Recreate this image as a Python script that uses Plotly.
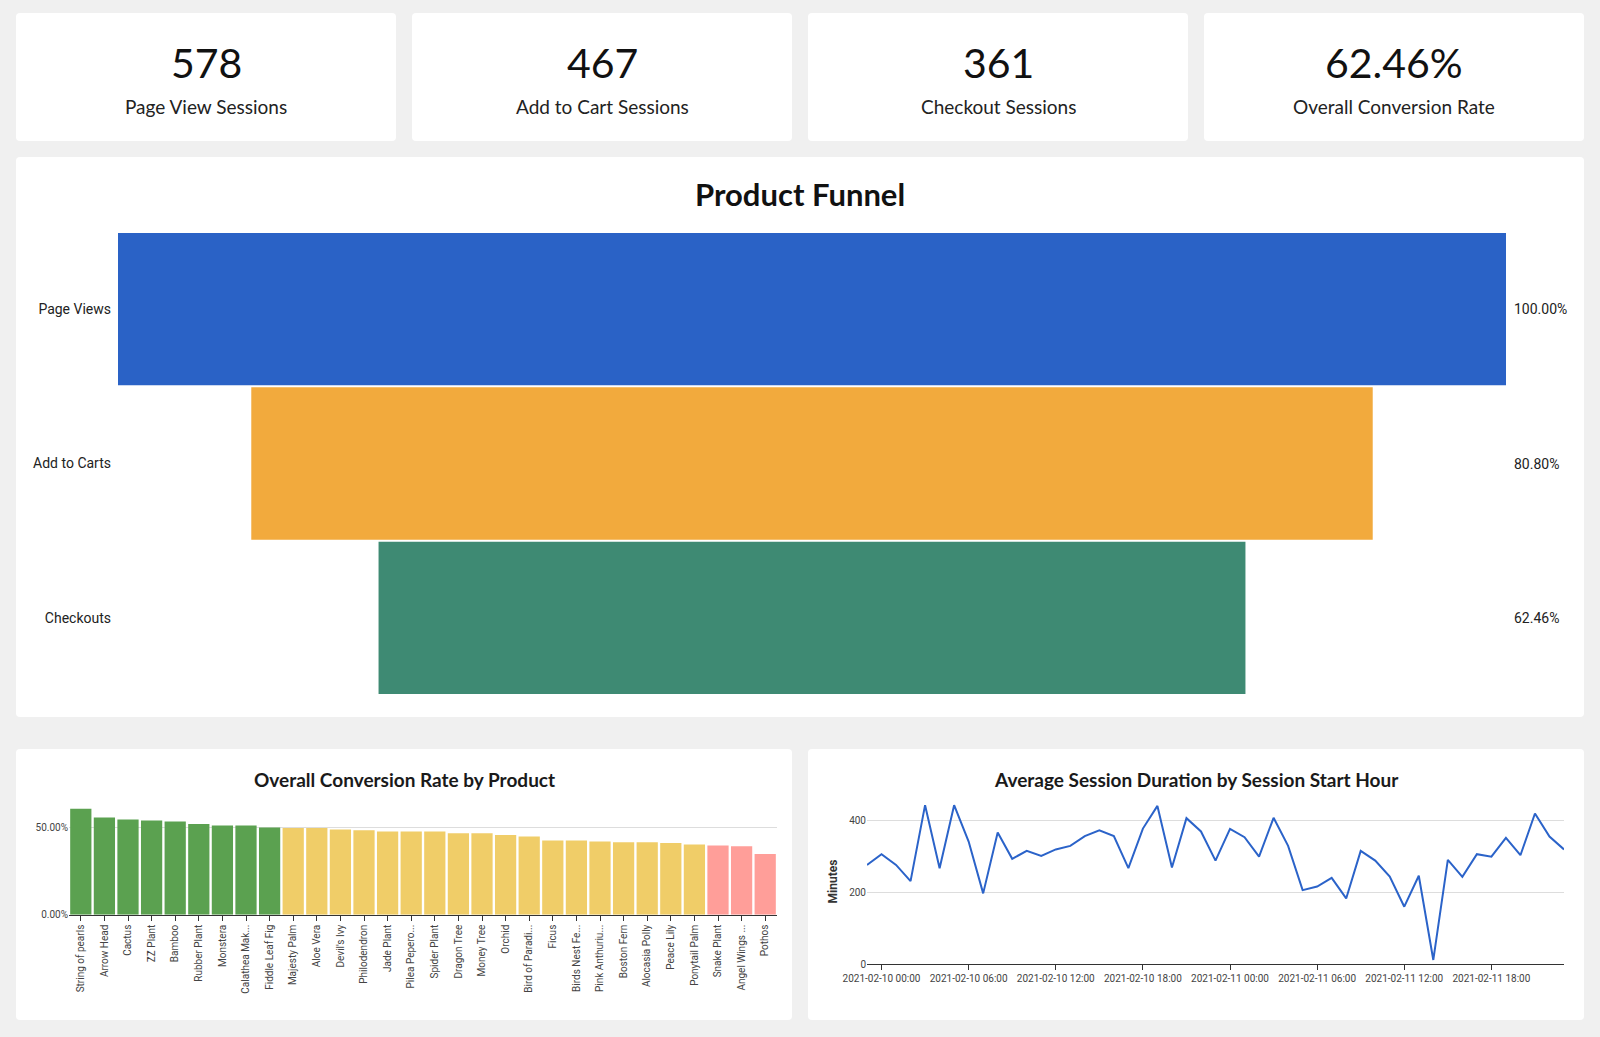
import plotly.graph_objects as go
import pandas as pd

# ---------------- data ----------------
kpi_values = ["578", "467", "361", "62.46%"]
kpi_labels = ["Page View Sessions", "Add to Cart Sessions", "Checkout Sessions", "Overall Conversion Rate"]

funnel_stages = ["Page Views", "Add to Carts", "Checkouts"]
funnel_values = [578, 467, 361]

products = ["String of pearls", "Arrow Head", "Cactus", "ZZ Plant", "Bamboo", "Rubber Plant",
            "Monstera", "Calathea Mak...", "Fiddle Leaf Fig", "Majesty Palm", "Aloe Vera",
            "Devil's Ivy", "Philodendron", "Jade Plant", "Pilea Pepero...", "Spider Plant",
            "Dragon Tree", "Money Tree", "Orchid", "Bird of Paradi...", "Ficus",
            "Birds Nest Fe...", "Pink Anthuriu...", "Boston Fern", "Alocasia Polly",
            "Peace Lily", "Ponytail Palm", "Snake Plant", "Angel Wings ...", "Pothos"]
conversion_rates = [0.609, 0.559, 0.548, 0.542, 0.536, 0.521, 0.513, 0.513, 0.502, 0.498,
                    0.498, 0.490, 0.485, 0.479, 0.479, 0.479, 0.469, 0.469, 0.458, 0.450,
                    0.427, 0.427, 0.421, 0.416, 0.416, 0.412, 0.404, 0.398, 0.393, 0.349]

session_start = "2021-02-09 23:00"
avg_minutes = [276, 306, 276, 231, 442, 267, 442, 341, 197, 366, 293, 315, 301, 319, 329,
               356, 372, 356, 267, 377, 440, 269, 406, 369, 288, 376, 353, 299, 407, 329,
               206, 216, 240, 183, 315, 288, 244, 160, 246, 12, 290, 243, 306, 299, 351,
               303, 419, 355, 319]

# ---------------- helpers ----------------
W, H = 1600, 1037
def fx(x):
    return x / W
def fy(y):
    return 1 - y / H

def card(x0, y0, x1, y1, r=4):
    rx, ry = r / W, r / H
    X0, X1 = fx(x0), fx(x1)
    Y0, Y1 = fy(y1), fy(y0)  # bottom, top in paper
    path = (f"M{X0+rx},{Y0} L{X1-rx},{Y0} Q{X1},{Y0} {X1},{Y0+ry} "
            f"L{X1},{Y1-ry} Q{X1},{Y1} {X1-rx},{Y1} L{X0+rx},{Y1} "
            f"Q{X0},{Y1} {X0},{Y1-ry} L{X0},{Y0+ry} Q{X0},{Y0} {X0+rx},{Y0} Z")
    return dict(type="path", path=path, xref="paper", yref="paper",
                fillcolor="white", line=dict(width=0), layer="below")

TITLE_FONT = "Lato"
TICK_FONT = "Roboto"

fig = go.Figure()

# funnel
funnel_colors = ["#2a62c6", "#f2aa3d", "#3e8a73"]
fig.add_trace(go.Funnel(
    x=funnel_values, y=funnel_stages, xaxis="x", yaxis="y",
    marker=dict(color=funnel_colors, line=dict(width=0)),
    connector=dict(visible=False), textinfo="none", hoverinfo="x+y",
))

# bars
def rate_color(v):
    if v >= 0.5:
        return "#5ba150"
    if v >= 0.40:
        return "#f0cd68"
    return "#ff9e99"
fig.add_trace(go.Bar(
    x=products, y=conversion_rates, xaxis="x2", yaxis="y2",
    marker=dict(color=[rate_color(v) for v in conversion_rates], line=dict(width=0)),
))

# line
hours = pd.date_range(session_start, periods=len(avg_minutes), freq="h")
fig.add_trace(go.Scatter(
    x=hours, y=avg_minutes, xaxis="x3", yaxis="y3", mode="lines",
    line=dict(color="#2b63c9", width=2),
))

shapes = [
    card(16, 13, 396, 141), card(412, 13, 792, 141), card(808, 13, 1188, 141), card(1204, 13, 1584, 141),
    card(16, 157, 1584, 717),
    card(16, 749, 792, 1020), card(808, 749, 1584, 1020),
]

annotations = []
centers = [206, 602, 998, 1394]
for c, v, l in zip(centers, kpi_values, kpi_labels):
    annotations.append(dict(x=fx(c), y=fy(63), xref="paper", yref="paper", text=v, showarrow=False,
                            xanchor="center", yanchor="middle",
                            font=dict(family=TITLE_FONT, size=41, color="#111111")))
    annotations.append(dict(x=fx(c), y=fy(107), xref="paper", yref="paper", text=l, showarrow=False,
                            xanchor="center", yanchor="middle",
                            font=dict(family=TITLE_FONT, size=19, color="#222222")))

annotations.append(dict(x=fx(800), y=fy(194), xref="paper", yref="paper", text="<b>Product Funnel</b>",
                        showarrow=False, xanchor="center", yanchor="middle",
                        font=dict(family=TITLE_FONT, size=31, color="#111111")))
annotations.append(dict(x=fx(404), y=fy(779), xref="paper", yref="paper",
                        text="<b>Overall Conversion Rate by Product</b>",
                        showarrow=False, xanchor="center", yanchor="middle",
                        font=dict(family=TITLE_FONT, size=19, color="#1a1a1a")))
annotations.append(dict(x=fx(1196), y=fy(779), xref="paper", yref="paper",
                        text="<b>Average Session Duration by Session Start Hour</b>",
                        showarrow=False, xanchor="center", yanchor="middle",
                        font=dict(family=TITLE_FONT, size=19, color="#1a1a1a")))

for stage, val in zip(funnel_stages, funnel_values):
    pct = val / funnel_values[0] * 100
    annotations.append(dict(x=fx(1512), y=stage, xref="paper", yref="y", text=f"{pct:.2f}%",
                            showarrow=False, xanchor="left", yanchor="middle",
                            font=dict(family=TICK_FONT, size=14, color="#222222")))

half = max(funnel_values) / 2
fig.update_layout(
    width=W, height=H, margin=dict(l=0, r=0, t=0, b=0, pad=0, autoexpand=False),
    paper_bgcolor="#f0f0f0", plot_bgcolor="rgba(0,0,0,0)",
    showlegend=False, shapes=shapes, annotations=annotations,
    funnelgap=0.013, bargap=0.1,
    xaxis=dict(domain=[fx(118), fx(1506)], range=[-half, half], visible=False, automargin=False),
    yaxis=dict(domain=[fy(695), fy(232)], autorange="reversed", showgrid=False, showline=False,
               ticks="", automargin=False, ticklabelstandoff=6,
               tickfont=dict(family=TICK_FONT, size=14, color="#222222")),
    xaxis2=dict(domain=[fx(69), fx(777)], anchor="y2", tickangle=-90, ticks="outside", ticklen=5,
                tickcolor="#333333", showline=True, linecolor="#333333", linewidth=1,
                showgrid=False, automargin=False,
                tickfont=dict(family=TICK_FONT, size=10, color="#444444")),
    yaxis2=dict(domain=[fy(914.7), fy(803.4)], anchor="x2", range=[0, 0.64], tickvals=[0, 0.5],
                tickformat=".2%", gridcolor="#dddddd", zeroline=False, ticks="", automargin=False,
                tickfont=dict(family=TICK_FONT, size=10, color="#444444")),
    xaxis3=dict(domain=[fx(867), fx(1564)], anchor="y3", type="date",
                range=[hours[0], hours[-1]], tick0="2021-02-10 00:00", dtick=6 * 3600 * 1000,
                tickformat="%Y-%m-%d %H:%M", tickangle=0, ticks="outside", ticklen=5,
                tickcolor="#333333", showline=True, linecolor="#333333", linewidth=1,
                showgrid=False, automargin=False,
                tickfont=dict(family=TICK_FONT, size=10, color="#444444")),
    yaxis3=dict(domain=[fy(964.3), fy(798.7)], anchor="x3", range=[0, 460], dtick=200,
                gridcolor="#dddddd", zeroline=False, ticks="", automargin=False,
                tickfont=dict(family=TICK_FONT, size=10, color="#444444"),
                title=dict(text="<b>Minutes</b>", standoff=8,
                           font=dict(family=TICK_FONT, size=12, color="#333333"))),
)

fig.write_html("out.html", config={"displayModeBar": False},
               post_script="document.body.style.margin='0';document.body.style.overflow='hidden';")
